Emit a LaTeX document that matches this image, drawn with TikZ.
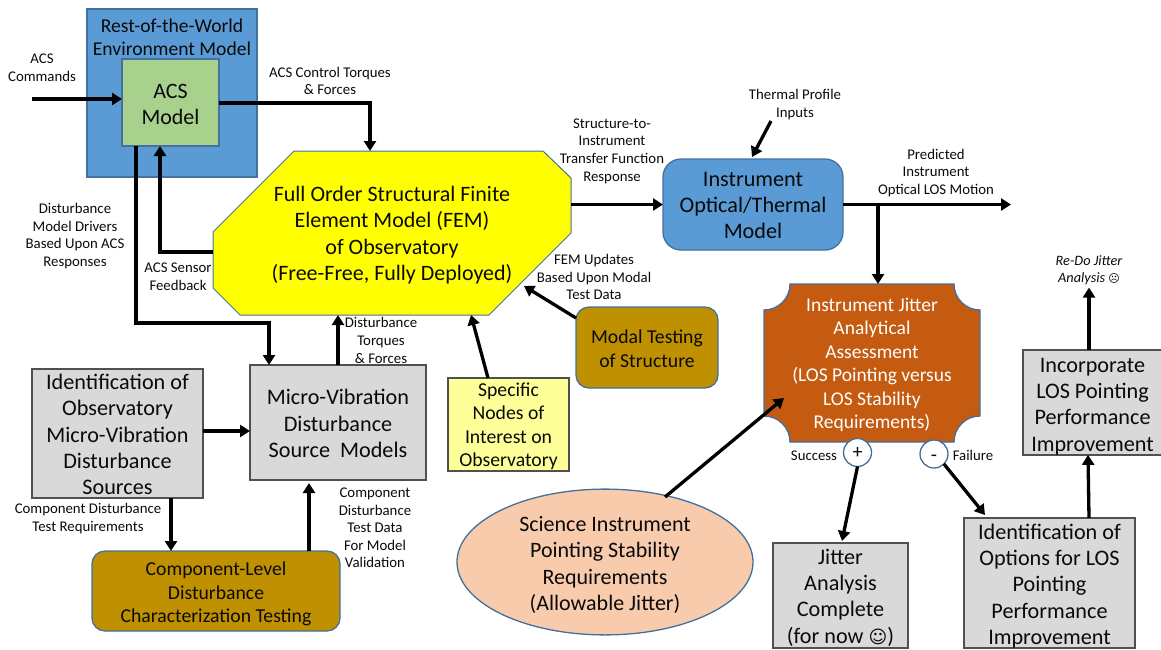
\documentclass[tikz,border=0pt]{standalone}
\usepackage{fontspec}
\setmainfont{Carlito}
\newfontfamily\symfont{DejaVu Sans}
\usetikzlibrary{arrows.meta,shapes.geometric}
\definecolor{bluefill}{HTML}{5B9BD5}
\definecolor{blueline}{HTML}{41719C}
\definecolor{greenfill}{HTML}{A9D18E}
\definecolor{goldfill}{HTML}{BF9000}
\definecolor{orangefill}{HTML}{C55A11}
\definecolor{peachfill}{HTML}{F8CBAD}
\definecolor{paleyellow}{HTML}{FFFF99}
\definecolor{purefill}{RGB}{255,255,0}
\definecolor{grayfill}{HTML}{D9D9D9}
\definecolor{grayline}{HTML}{505050}
\definecolor{ink}{HTML}{0A0A0A}
\newcommand{\fs}[2]{\fontsize{#1}{#2}\selectfont}
% \dn{d}{first line}: moves a centred block of lines down by d points
\newcommand{\dn}[2]{\setbox0=\hbox{#2}\rule{0pt}{\dimexpr\ht0+#1pt+#1pt\relax}#2}
\tikzset{
  x=1pt,y=-1pt,
  base/.style={rectangle,inner sep=0pt,outer sep=0pt,align=center,text=ink},
  bluebox/.style={base,draw=blueline,line width=1.3pt,fill=bluefill},
  graybox/.style={base,draw=grayline,line width=1.3pt,fill=grayfill,font=\fs{22.2}{26.3}},
  goldbox/.style={base,draw=blueline,line width=1.3pt,fill=goldfill,rounded corners=13pt,font=\fs{19.7}{23.5}},
  lab/.style={base,font=\fs{14.8}{17.6}},
  arrow/.style={draw=black,line width=3.3pt,-{Triangle[length=10pt,width=12pt]}},
  signc/.style={circle,draw=blueline,line width=1.3pt,fill=white,minimum size=28pt,inner sep=0pt,outer sep=0pt,text=ink,font=\fs{20}{22}},
}
\begin{document}
\begin{tikzpicture}
\useasboundingbox (0,0) rectangle (1161,649);
% World + ACS
\node[bluebox,minimum width=170pt,minimum height=168pt] (world) at (172,93) {};
\node[base,font=\fs{19.6}{23}] (worldt) at (172,37) {Rest-of-the-World\\Environment Model};
\node[base,draw=blueline,line width=1.3pt,fill=greenfill,minimum width=97pt,minimum height=87pt,font=\fs{22}{26}] (acs) at (170.5,102.5) {\dn{2}{ACS}\\Model};
% FEM octagon
\path[fill=purefill,draw=blueline,line width=1pt] (294,151) -- (543,151) -- (571,178) -- (571,233) -- (489,315) -- (240,315) -- (213,288) -- (213,232) -- cycle;
\node[base,minimum width=358pt,minimum height=164pt,font=\fs{22}{26.3}] (fem) at (392,233) {\dn{2}{Full Order Structural Finite}\\Element Model (FEM)\\of Observatory\\(Free-Free, Fully Deployed)};
% Micro vibration
\node[graybox,minimum width=176pt,minimum height=115pt] (micro) at (338,422.5) {\dn{1}{Micro-Vibration}\\Disturbance\\Source~ Models};
\node[graybox,minimum width=171pt,minimum height=129pt] (ident) at (117.5,433.5) {\dn{1}{Identification of}\\Observatory\\Micro-Vibration\\Disturbance\\Sources};
\node[goldbox,minimum width=248pt,minimum height=80pt] (comp) at (216,591) {\dn{3}{Component-Level}\\Disturbance\\Characterization Testing};
\node[base,draw=grayline,line width=1.3pt,fill=paleyellow,minimum width=121pt,minimum height=93pt,font=\fs{19.7}{23.5}] (spec) at (508.5,424.5) {\dn{2}{Specific}\\Nodes of\\Interest on\\Observatory};
\node[goldbox,minimum width=142pt,minimum height=81pt] (modal) at (647,347.5) {\dn{1}{Modal Testing}\\of Structure};
\node[base,ellipse,draw=blueline,line width=1.3pt,fill=peachfill,minimum width=296pt,minimum height=144pt,font=\fs{22}{26.3}] (sci) at (605,562) {\dn{3}{Science Instrument}\\Pointing Stability\\Requirements\\(Allowable Jitter)};
\node[bluebox,rounded corners=18pt,minimum width=180pt,minimum height=91pt,font=\fs{22.2}{26}] (inst) at (753,204.5) {\dn{1}{Instrument}\\Optical/Thermal\\Model};
% Jitter plaque
\path[fill=orangefill,draw=blueline,line width=1.3pt] (790,284) -- (954,284) .. controls (954,298.4) and (965.6,310) .. (980,310) -- (980,416) .. controls (965.6,416) and (954,427.6) .. (954,442) -- (790,442) .. controls (790,427.6) and (778.4,416) .. (764,416) -- (764,310) .. controls (778.4,310) and (790,298.4) .. (790,284) -- cycle;
\node[base,minimum width=216pt,minimum height=158pt,text=white,font=\fs{19.5}{23.5}] (jit) at (872,363) {\dn{2}{Instrument Jitter}\\Analytical\\Assessment\\(LOS Pointing versus\\LOS Stability\\Requirements)};
\node[signc] (plus) at (857.5,452.5) {+};
\node[signc] (minus) at (934,454) {\dn{4}{-}};
\node[graybox,minimum width=135pt,minimum height=105pt] (done) at (840.5,595.5) {\dn{2}{Jitter}\\Analysis\\Complete\\(for now {\symfont\fs{18}{20}☺})};
\node[graybox,minimum width=171pt,minimum height=130pt] (opts) at (1049.5,583) {\dn{3}{Identification of}\\Options for LOS\\Pointing\\Performance\\Improvement};
\node[graybox,minimum width=139pt,minimum height=103pt] (incorp) at (1092.5,402.5) {\dn{4}{Incorporate}\\LOS Pointing\\Performance\\Improvement};
% labels
\node[lab] (tcmd) at (42,67.5) {ACS\\Commands};
\node[lab] (tctl) at (330,81) {ACS Control Torques\\\& Forces};
\node[lab] (tdrv) at (75,236) {Disturbance\\Model Drivers\\Based Upon ACS\\Responses};
\node[lab] (tsen) at (178,277) {ACS Sensor\\Feedback};
\node[lab] (tstr) at (612,151) {Structure-to-\\Instrument\\Transfer Function\\Response};
\node[lab] (tthm) at (795,104.5) {Thermal Profile\\Inputs};
\node[lab] (tpre) at (936,173) {Predicted\\Instrument\\Optical LOS Motion};
\node[lab] (tupd) at (594,277) {FEM Updates\\Based Upon Modal\\Test Data};
\node[lab] (tdis) at (381,340.5) {Disturbance\\Torques\\\& Forces};
\node[lab] (treq) at (88,518.5) {Component Disturbance\\Test Requirements};
\node[lab] (tdat) at (375,528) {Component\\Disturbance\\Test Data\\For Model\\Validation};
\node[lab] (tsuc) at (814,456) {Success};
\node[lab] (tfai) at (973,455) {Failure};
\node[lab,font=\fs{14.3}{17}\itshape] (tred) at (1089,270) {Re-Do Jitter\\Analysis {\symfont\fs{11}{14}☹}};
% free ends
\coordinate (cmdfree) at (32,99);
\coordinate (losfree) at (1011,204.5);
\coordinate (thmfree) at (771,121);
% connectors
\draw[arrow] (cmdfree) -- ([yshift=3.5pt]acs.west);
\draw[arrow] ([yshift=-0.5pt]acs.east) -- ++(151,0) -- ([xshift=-22pt]fem.north);
\draw[arrow] ([yshift=-19pt]fem.west) -- ++(-53,0) -- ([xshift=-10.5pt]acs.south);
\draw[arrow] ([xshift=-34.5pt]acs.south) -- ++(0,177) -- ++(133,0) -- ([xshift=-69pt]micro.north);
\draw[arrow] ([yshift=2.5pt]ident.east) -- ([yshift=-8.5pt]micro.west);
\draw[arrow] (micro.north) -- ([xshift=-54pt]fem.south);
\draw[arrow] ([xshift=53.5pt]ident.south) -- ([xshift=-45pt]comp.north);
\draw[arrow] ([xshift=93pt]comp.north) -- ([xshift=-29pt,yshift=-3pt]micro.south);
\draw[arrow] ([xshift=-20.5pt]spec.north) -- ([xshift=79pt]fem.south);
\draw[arrow] ([xshift=-71pt,yshift=29.5pt]modal.center) -- ([xshift=132pt,yshift=-53pt]fem.center);
\draw[arrow] ([xshift=60pt,yshift=65pt]sci.center) -- ([xshift=-88pt,yshift=-35pt]jit.center);
\draw[arrow] ([yshift=28.5pt]fem.east) -- (inst.west);
\draw[arrow] (inst.east) -- (losfree);
\draw[arrow] ([xshift=35pt]inst.east) -- ([xshift=6pt]jit.north);
\draw[arrow] (thmfree) -- ([yshift=2pt,xshift=-1pt]inst.north);
\draw[arrow] (plus.south) -- ([xshift=1.5pt,yshift=2pt]done.north);
\draw[arrow] (minus.south east) -- ([xshift=-64.5pt,yshift=3pt]opts.north);
\draw[arrow] ([xshift=39.5pt]opts.north) -- ([xshift=-4.5pt]incorp.south);
\draw[arrow] ([xshift=-3.5pt]incorp.north) -- ([yshift=-3pt]tred.south);
\end{tikzpicture}
\end{document}
